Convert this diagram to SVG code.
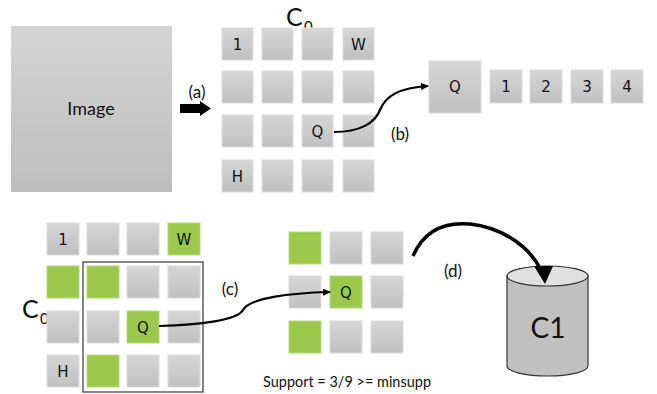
<svg xmlns="http://www.w3.org/2000/svg" width="657" height="394" viewBox="0 0 657 394">
<defs>
<linearGradient id="gGray" x1="0" y1="0" x2="0" y2="1"><stop offset="0" stop-color="#d6d6d6"/><stop offset="1" stop-color="#c0c0c0"/></linearGradient>
<linearGradient id="gImg" x1="0" y1="0" x2="0" y2="1"><stop offset="0" stop-color="#d4d4d4"/><stop offset="1" stop-color="#bebebe"/></linearGradient>
<marker id="arr" markerWidth="8" markerHeight="8" refX="7" refY="4" orient="auto" markerUnits="userSpaceOnUse"><path d="M0,0.5 L8,4 L0,7.5 Z" fill="#000"/></marker>
<style>
.c{fill:url(#gGray);stroke:#dcdcdc;stroke-width:1}
.g{fill:#9cc94c;stroke:#b5d97a;stroke-width:1}
.t{font-family:"DejaVu Sans",sans-serif;font-size:15px;fill:#111;text-anchor:middle}
.l{font-family:Lato,"Open Sans",sans-serif;fill:#111}
.w{fill:none;stroke:#000;stroke-width:2.2}
</style>
</defs>

<g id="image"><rect x="11" y="26" width="161" height="166" fill="url(#gImg)"/><text class="l" x="91" y="115" font-size="18" text-anchor="middle">Image</text></g>

<g id="arrow-a"><polygon points="180,104 200,104 200,101 211,108.5 200,116 200,113 180,113" fill="#000"/><text class="l" x="197" y="98" font-size="17" text-anchor="middle">(a)</text></g>

<g id="labelC0top"><text class="l" x="286" y="26" font-size="25">C</text><text class="l" x="304" y="32" font-size="15">0</text></g>

<g id="gridTop">
<g id="t11"><rect class="c" x="222" y="28" width="31" height="32"/><text class="t" x="237.5" y="50">1</text></g>
<g id="t12"><rect class="c" x="262" y="28" width="31" height="32"/></g>
<g id="t13"><rect class="c" x="302" y="28" width="31" height="32"/></g>
<g id="t14"><rect class="c" x="343" y="28" width="31" height="32"/><text class="t" x="358.5" y="50">W</text></g>
<g id="t21"><rect class="c" x="222" y="71" width="31" height="32"/></g>
<g id="t22"><rect class="c" x="262" y="71" width="31" height="32"/></g>
<g id="t23"><rect class="c" x="302" y="71" width="31" height="32"/></g>
<g id="t24"><rect class="c" x="343" y="71" width="31" height="32"/></g>
<g id="t31"><rect class="c" x="222" y="115" width="31" height="32"/></g>
<g id="t32"><rect class="c" x="262" y="115" width="31" height="32"/></g>
<g id="t33"><rect class="c" x="302" y="115" width="31" height="32"/><text class="t" x="317.5" y="137">Q</text></g>
<g id="t34"><rect class="c" x="343" y="115" width="31" height="32"/></g>
<g id="t41"><rect class="c" x="222" y="160" width="31" height="32"/><text class="t" x="237.5" y="182">H</text></g>
<g id="t42"><rect class="c" x="262" y="160" width="31" height="32"/></g>
<g id="t43"><rect class="c" x="302" y="160" width="31" height="32"/></g>
<g id="t44"><rect class="c" x="343" y="160" width="31" height="32"/></g>
</g>

<g id="rowList">
<g id="bigQ"><rect class="c" x="429" y="61" width="52" height="52"/><text class="t" x="455" y="92">Q</text></g>
<g id="r1"><rect class="c" x="490" y="70" width="32" height="33"/><text class="t" x="506" y="92">1</text></g>
<g id="r2"><rect class="c" x="530" y="70" width="32" height="33"/><text class="t" x="546" y="92">2</text></g>
<g id="r3"><rect class="c" x="571" y="70" width="32" height="33"/><text class="t" x="587" y="92">3</text></g>
<g id="r4"><rect class="c" x="611" y="70" width="32" height="33"/><text class="t" x="627" y="92">4</text></g>
</g>

<g id="labelC0bot"><text class="l" x="22" y="318" font-size="25">C</text><text class="l" x="40" y="324" font-size="15">0</text></g>

<g id="gridBot">
<g id="b11"><rect class="c" x="47" y="223" width="32" height="32"/><text class="t" x="63" y="245">1</text></g>
<g id="b12"><rect class="c" x="87" y="223" width="32" height="32"/></g>
<g id="b13"><rect class="c" x="127" y="223" width="32" height="32"/></g>
<g id="b14"><rect class="g" x="168" y="223" width="32" height="32"/><text class="t" x="184" y="245">W</text></g>
<g id="b21"><rect class="g" x="47" y="266" width="32" height="32"/></g>
<g id="b22"><rect class="g" x="87" y="266" width="32" height="32"/></g>
<g id="b23"><rect class="c" x="127" y="266" width="32" height="32"/></g>
<g id="b24"><rect class="c" x="168" y="266" width="32" height="32"/></g>
<g id="b31"><rect class="c" x="47" y="311" width="32" height="32"/></g>
<g id="b32"><rect class="c" x="87" y="311" width="32" height="32"/></g>
<g id="b33"><rect class="g" x="127" y="311" width="32" height="32"/><text class="t" x="143" y="333">Q</text></g>
<g id="b34"><rect class="c" x="168" y="311" width="32" height="32"/></g>
<g id="b41"><rect class="c" x="47" y="355" width="32" height="32"/><text class="t" x="63" y="377">H</text></g>
<g id="b42"><rect class="g" x="87" y="355" width="32" height="32"/></g>
<g id="b43"><rect class="c" x="127" y="355" width="32" height="32"/></g>
<g id="b44"><rect class="c" x="168" y="355" width="32" height="32"/></g>
<rect id="window" x="83" y="262" width="120" height="130" fill="none" stroke="#444" stroke-width="1.3"/>
</g>

<g id="gridMid">
<g id="m11"><rect class="g" x="289" y="232" width="32" height="32"/></g>
<g id="m12"><rect class="c" x="330" y="232" width="32" height="32"/></g>
<g id="m13"><rect class="c" x="371" y="232" width="32" height="32"/></g>
<g id="m21"><rect class="c" x="289" y="276" width="32" height="32"/></g>
<g id="m22"><rect class="g" x="330" y="276" width="32" height="32"/><text class="t" x="346" y="298">Q</text></g>
<g id="m23"><rect class="c" x="371" y="276" width="32" height="32"/></g>
<g id="m31"><rect class="g" x="289" y="321" width="32" height="32"/></g>
<g id="m32"><rect class="c" x="330" y="321" width="32" height="32"/></g>
<g id="m33"><rect class="c" x="371" y="321" width="32" height="32"/></g>
</g>

<g id="support"><text class="l" x="263" y="387" font-size="16" textLength="168" lengthAdjust="spacingAndGlyphs">Support = 3/9 &gt;= minsupp</text></g>

<g id="db">
<path d="M507,276 L507,366 A40.5,10 0 0 0 588,366 L588,276 Z" fill="#c0c0c0" stroke="#333" stroke-width="1.2"/>
<ellipse cx="547.5" cy="276" rx="40.5" ry="10" fill="#e0e0e0" stroke="#333" stroke-width="1.2"/>
<text class="l" x="548" y="338" font-size="28" text-anchor="middle">C1</text>
</g>

<g id="connectors">
<path class="w" d="M334,132 C360,132 375,123 380,110 C386,95 400,88 428,86" marker-end="url(#arr)"/>
<text class="l" x="400" y="140" font-size="17" text-anchor="middle">(b)</text>
<path class="w" d="M159,326 C200,325 238,320 243,310 C249,298 290,293 330,292" marker-end="url(#arr)"/>
<text class="l" x="230" y="295" font-size="17" text-anchor="middle">(c)</text>
<path d="M413,256 C425,228 448,222 470,224 C505,228 530,248 541,270" fill="none" stroke="#000" stroke-width="3.5"/>
<polygon points="534,266 553,266 545,284" fill="#000"/>
<text class="l" x="453" y="277" font-size="17" text-anchor="middle">(d)</text>
</g>
</svg>
